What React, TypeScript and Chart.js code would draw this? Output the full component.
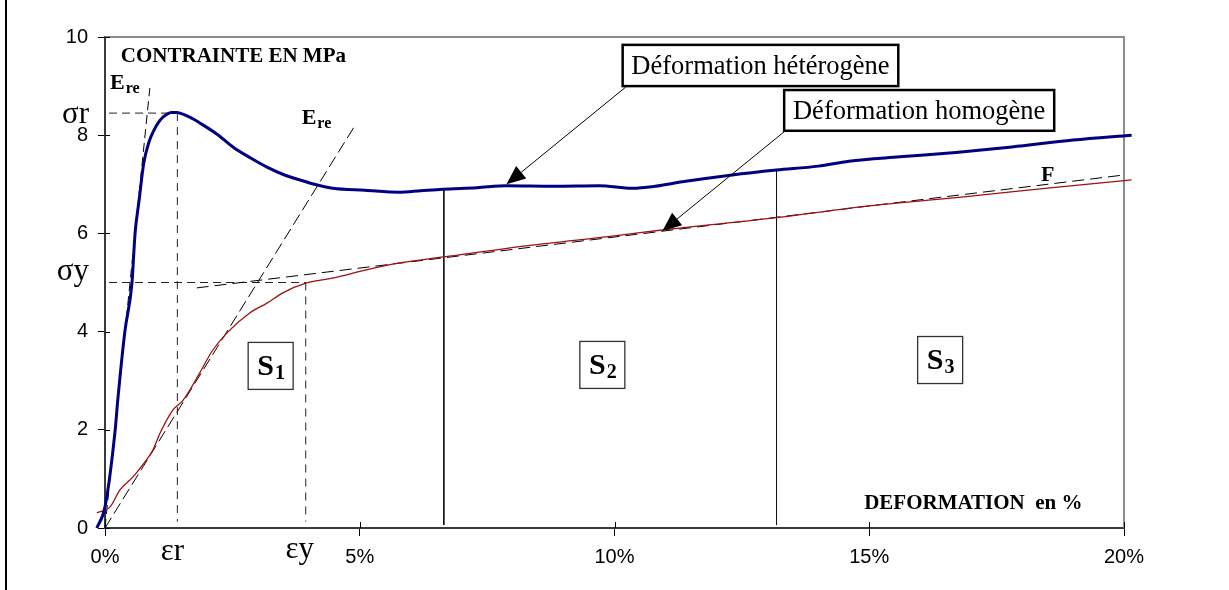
import React, { useEffect, useRef } from "react";
import { Chart, registerables } from "chart.js";

Chart.register(...registerables);

// Heterogeneous deformation curve (strain %, stress MPa)
const hetX = [-0.16, 0, 0.2, 0.25, 0.39, 0.53, 0.59, 0.67, 0.76, 0.86, 0.96, 1.05, 1.14, 1.22, 1.3, 1.4, 1.5, 1.62, 1.75, 1.86, 2.2, 2.51, 2.85, 3.18, 3.5, 3.82, 4.15, 4.47, 5.1, 5.78, 6.2, 6.63, 7.3, 7.88, 8.8, 9.7, 10.35, 10.8, 11.33, 12.31, 13.18, 14.0, 14.6, 15.6, 16.7, 17.8, 19.0, 20.15];
const hetY = [0, 0.43, 2.0, 2.6, 4.0, 5.0, 6.0, 6.68, 7.43, 7.85, 8.1, 8.26, 8.37, 8.43, 8.46, 8.46, 8.44, 8.39, 8.32, 8.25, 8.02, 7.76, 7.54, 7.35, 7.2, 7.09, 6.99, 6.92, 6.88, 6.84, 6.87, 6.9, 6.93, 6.97, 6.96, 6.97, 6.92, 6.96, 7.05, 7.19, 7.29, 7.37, 7.47, 7.56, 7.65, 7.76, 7.9, 8.0];

// Homogeneous deformation curve
const homX = [-0.16, 0.1, 0.29, 0.55, 0.75, 0.94, 1.08, 1.33, 1.53, 1.86, 2.1, 2.39, 2.84, 3.18, 3.49, 3.96, 4.47, 5.1, 5.78, 6.65, 8.3, 10.0, 11.1, 13.1, 15.0, 16.9, 18.5, 20.15];
const homY = [0.31, 0.43, 0.77, 1.04, 1.3, 1.59, 1.93, 2.4, 2.6, 3.16, 3.6, 3.97, 4.38, 4.58, 4.79, 4.99, 5.09, 5.25, 5.4, 5.52, 5.75, 5.95, 6.09, 6.31, 6.56, 6.75, 6.92, 7.09];

// Construction lines
const ereSteepX = [0, 0.88];
const ereSteepY = [0, 8.96];
const ereLowX = [0, 4.89];
const ereLowY = [0, 8.17];
const tangentFX = [1.8, 20];
const tangentFY = [4.89, 7.19];

// Characteristic values
const sigmaR = 8.45;
const epsR = 1.42;
const sigmaYv = 5.0;
const epsY = 3.94;
const guideStart = 0.08;
const guideFloor = 0.13;

// Stage boundaries (strain %, top stress)
const stageX = [6.65, 13.18];
const stageTop = [6.92, 7.29];

// Tick labels
const xTicks = [0, 5, 10, 15, 20];
const yTicks = [0, 2, 4, 6, 8, 10];

const pts = (xs: number[], ys: number[]) => xs.map((x, i) => ({ x, y: ys[i] }));

const SERIF = "'Liberation Serif', 'Times New Roman', serif";
const SANS = "'Liberation Sans', Arial, sans-serif";

function drawSub(ctx: any, x: number, y: number, main: string, sub: string, mainFont: string, subFont: string, dy: number) {
  ctx.font = mainFont;
  ctx.textAlign = "left";
  ctx.textBaseline = "alphabetic";
  ctx.fillText(main, x, y);
  const w = ctx.measureText(main).width;
  ctx.font = subFont;
  ctx.fillText(sub, x + w + 1, y + dy);
}

function arrow(ctx: any, x1: number, y1: number, x2: number, y2: number) {
  const ang = Math.atan2(y2 - y1, x2 - x1);
  const len = 19;
  const hw = 8;
  const bx = x2 - len * Math.cos(ang);
  const by = y2 - len * Math.sin(ang);
  ctx.strokeStyle = "#000";
  ctx.lineWidth = 1;
  ctx.beginPath();
  ctx.moveTo(x1, y1);
  ctx.lineTo(bx, by);
  ctx.stroke();
  ctx.fillStyle = "#000";
  ctx.beginPath();
  ctx.moveTo(x2, y2);
  ctx.lineTo(bx + hw * Math.sin(ang), by - hw * Math.cos(ang));
  ctx.lineTo(bx - hw * Math.sin(ang), by + hw * Math.cos(ang));
  ctx.closePath();
  ctx.fill();
}

const annotPlugin = {
  id: "annot",
  beforeDatasetsDraw(chart: any) {
    const { ctx, chartArea } = chart;
    const { left, right, top, bottom } = chartArea;
    ctx.save();
    ctx.strokeStyle = "#8c8c8c";
    ctx.lineWidth = 2;
    ctx.beginPath();
    ctx.moveTo(left, top);
    ctx.lineTo(right, top);
    ctx.lineTo(right, bottom);
    ctx.stroke();
    ctx.restore();
  },
  afterDraw(chart: any) {
    const { ctx, chartArea } = chart;
    const xs = chart.scales.x;
    const ys = chart.scales.y;
    const px = (v: number) => xs.getPixelForValue(v);
    const py = (v: number) => ys.getPixelForValue(v);
    ctx.save();

    // left frame line
    ctx.fillStyle = "#000";
    ctx.fillRect(5, 0, 2, chart.height);

    // inner tick segments
    ctx.strokeStyle = "#000";
    ctx.lineWidth = 1;
    ctx.beginPath();
    xTicks.forEach((t) => {
      const x = Math.round(px(t)) + 0.5;
      ctx.moveTo(x, chartArea.bottom);
      ctx.lineTo(x, chartArea.bottom - 6);
    });
    yTicks.forEach((t) => {
      const y = Math.round(py(t)) + 0.5;
      ctx.moveTo(chartArea.left, y);
      ctx.lineTo(chartArea.left + 5, y);
    });
    ctx.stroke();

    ctx.fillStyle = "#000";
    // axis titles
    ctx.font = `bold 21px ${SERIF}`;
    ctx.textAlign = "left";
    ctx.textBaseline = "alphabetic";
    ctx.fillText("CONTRAINTE EN MPa", px(0.31), py(9.49));
    ctx.fillText("DEFORMATION  en %", px(14.9), py(0.39));

    // E_re labels and F
    drawSub(ctx, px(0.1), py(8.94), "E", "re", `bold 22px ${SERIF}`, `bold 16px ${SERIF}`, 4);
    drawSub(ctx, px(3.86), py(8.23), "E", "re", `bold 22px ${SERIF}`, `bold 16px ${SERIF}`, 4);
    ctx.font = `bold 22px ${SERIF}`;
    ctx.fillText("F", px(18.37), py(7.07));

    // Greek labels
    ctx.font = `31px ${SERIF}`;
    ctx.textAlign = "right";
    ctx.fillText("σr", chartArea.left - 16, py(sigmaR) + 10);
    ctx.fillText("σy", chartArea.left - 16, py(sigmaYv) - 3);
    ctx.textAlign = "center";
    ctx.fillText("εr", px(epsR) - 5, chartArea.bottom + 32);
    ctx.fillText("εy", px(epsY) - 6, chartArea.bottom + 30);

    // Stage boxes
    const stages = [
      { x: 2.8, y: 3.79, n: "1" },
      { x: 9.31, y: 3.81, n: "2" },
      { x: 15.94, y: 3.91, n: "3" },
    ];
    stages.forEach((s) => {
      const bx = px(s.x);
      const by = py(s.y);
      const w = 45;
      const h = 47;
      ctx.fillStyle = "#fff";
      ctx.fillRect(bx, by, w, h);
      ctx.strokeStyle = "#333";
      ctx.lineWidth = 1.3;
      ctx.strokeRect(bx + 0.5, by + 0.5, w, h);
      ctx.fillStyle = "#000";
      ctx.font = `bold 30px ${SERIF}`;
      const sw = ctx.measureText("S").width;
      ctx.font = `bold 20px ${SERIF}`;
      const nw = ctx.measureText(s.n).width;
      const start = bx + (w - sw - nw - 1) / 2 + 1;
      drawSub(ctx, start, by + 33, "S", s.n, `bold 30px ${SERIF}`, `bold 20px ${SERIF}`, 4);
    });

    // Callout boxes
    const boxes = [
      { x1: 10.16, y1: 9.84, x2: 15.57, y2: 9.0, text: "Déformation hétérogène", ax: 10.22, ay: 8.98, tx: 7.88, ty: 7.0 },
      { x1: 13.33, y1: 8.92, x2: 18.63, y2: 8.09, text: "Déformation homogène", ax: 13.33, ay: 8.07, tx: 10.94, ty: 6.05 },
    ];
    boxes.forEach((b) => {
      arrow(ctx, px(b.ax), py(b.ay), px(b.tx), py(b.ty));
      const x1 = px(b.x1);
      const y1 = py(b.y1);
      const x2 = px(b.x2);
      const y2 = py(b.y2);
      ctx.fillStyle = "#fff";
      ctx.fillRect(x1, y1, x2 - x1, y2 - y1);
      ctx.strokeStyle = "#000";
      ctx.lineWidth = 2.5;
      ctx.strokeRect(x1, y1, x2 - x1, y2 - y1);
      ctx.fillStyle = "#000";
      ctx.font = `26.5px ${SERIF}`;
      ctx.textAlign = "center";
      ctx.textBaseline = "alphabetic";
      ctx.fillText(b.text, (x1 + x2) / 2, y2 - 12);
    });

    ctx.restore();
  },
};

export default function App() {
  const ref = useRef<HTMLCanvasElement>(null);
  useEffect(() => {
    const canvas = ref.current;
    if (!canvas) return;
    const line = (data: any[], color: string, width: number, dash: number[] = [], smooth = false) => ({
      data,
      borderColor: color,
      borderWidth: width,
      borderDash: dash,
      pointRadius: 0,
      fill: false,
      tension: smooth ? 0.4 : 0,
      cubicInterpolationMode: smooth ? "monotone" : "default",
      clip: false,
    });
    const datasets: any[] = [
      line(pts(hetX, hetY), "#000080", 3, [], true),
      line(pts(homX, homY), "#a01010", 1.3, [], true),
      line(pts(ereSteepX, ereSteepY), "#000", 1, [9, 5]),
      line(pts(ereLowX, ereLowY), "#000", 1, [12, 5]),
      line(pts(tangentFX, tangentFY), "#000", 1, [12, 6]),
      line([{ x: guideStart, y: sigmaR }, { x: epsR, y: sigmaR }], "#222", 1, [8, 5]),
      line([{ x: epsR, y: sigmaR }, { x: epsR, y: guideFloor }], "#222", 1, [8, 6]),
      line([{ x: guideStart, y: sigmaYv }, { x: epsY, y: sigmaYv }], "#222", 1, [8, 5]),
      line([{ x: epsY, y: sigmaYv }, { x: epsY, y: guideFloor }], "#222", 1, [8, 6]),
      ...stageX.map((sx, i) => line([{ x: sx, y: stageTop[i] }, { x: sx, y: 0.06 }], "#111", 1)),
    ];
    const chart = new Chart(canvas, {
      type: "line",
      data: { datasets },
      options: {
        responsive: false,
        maintainAspectRatio: false,
        animation: false,
        devicePixelRatio: 1,
        layout: { padding: { left: 0, top: 37, right: 105, bottom: 0 } },
        plugins: { legend: { display: false }, tooltip: { enabled: false } },
        elements: { point: { radius: 0 } },
        scales: {
          x: {
            type: "linear",
            min: 0,
            max: 20,
            afterFit: (s: any) => {
              s.height = 62;
            },
            afterBuildTicks: (s: any) => {
              s.ticks = xTicks.map((v) => ({ value: v }));
            },
            ticks: {
              callback: (v: any) => v + "%",
              color: "#000",
              font: { family: SANS, size: 20 },
              padding: 9,
              maxRotation: 0,
              autoSkip: false,
            },
            grid: { drawOnChartArea: false, drawTicks: true, tickLength: 8, color: "#000", tickColor: "#000", lineWidth: 1 },
            border: { color: "#3a3a3a", width: 2 },
          },
          y: {
            min: 0,
            max: 10,
            afterFit: (s: any) => {
              s.width = 105;
            },
            afterBuildTicks: (s: any) => {
              s.ticks = yTicks.map((v) => ({ value: v }));
            },
            ticks: {
              color: "#000",
              font: { family: SANS, size: 20 },
              padding: 10,
              autoSkip: false,
            },
            grid: { drawOnChartArea: false, drawTicks: true, tickLength: 7, color: "#000", tickColor: "#000", lineWidth: 1 },
            border: { color: "#3a3a3a", width: 2 },
          },
        },
      },
      plugins: [annotPlugin],
    } as any);
    return () => chart.destroy();
  }, []);
  return (
    <div style={{ position: "fixed", left: 0, top: 0, width: 1229, height: 590, background: "#fff" }}>
      <canvas ref={ref} width={1229} height={590} style={{ width: 1229, height: 590, display: "block" }} />
    </div>
  );
}
